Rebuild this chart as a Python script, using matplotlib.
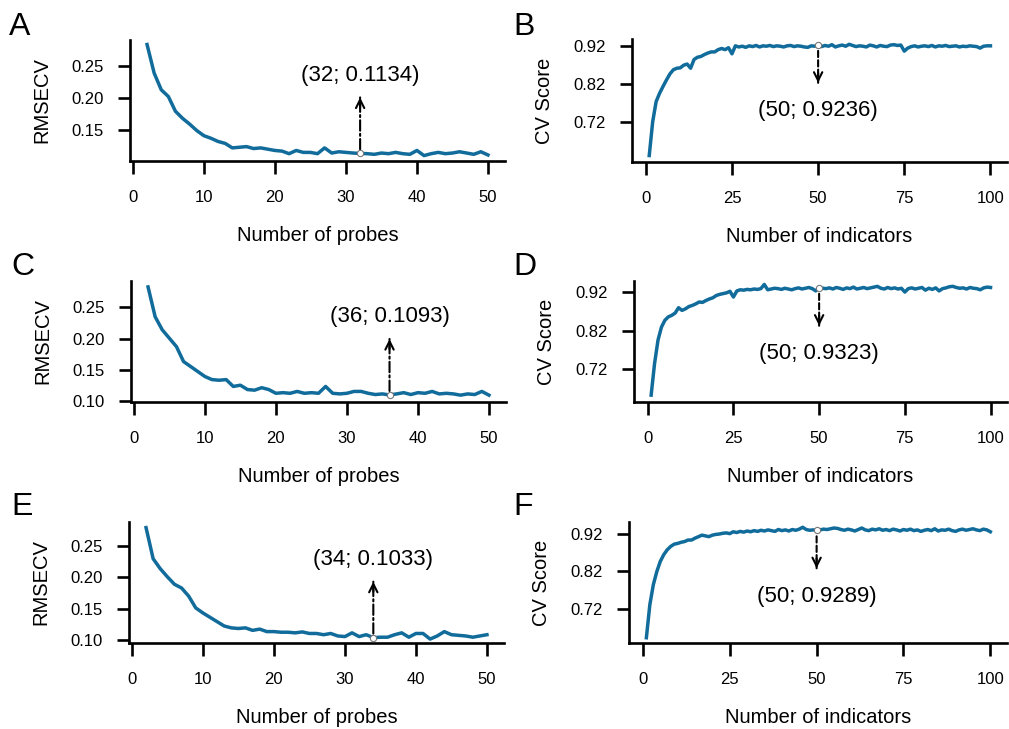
import numpy as np
import matplotlib
matplotlib.use("Agg")
import matplotlib.pyplot as plt
from matplotlib.transforms import offset_copy

plt.rcParams['font.family'] = ['Liberation Sans', 'DejaVu Sans']

# RMSECV vs number of probes (x = 2..50)
probes = np.arange(2, 51)
rmsecv_a = [0.283, 0.2385, 0.2125, 0.202, 0.179, 0.168, 0.159, 0.149, 0.141,
            0.137, 0.132, 0.129, 0.122, 0.123, 0.124, 0.121, 0.122, 0.120, 0.118,
            0.117, 0.113, 0.118, 0.115, 0.115, 0.113, 0.122, 0.114, 0.116, 0.115,
            0.114, 0.1134, 0.113, 0.112, 0.114, 0.113, 0.115, 0.113, 0.112, 0.118,
            0.110, 0.113, 0.115, 0.113, 0.114, 0.116, 0.114, 0.112, 0.116, 0.111]
rmsecv_c = [0.283, 0.235, 0.214, 0.2005, 0.187, 0.163, 0.155, 0.147, 0.139,
            0.134, 0.133, 0.134, 0.123, 0.125, 0.118, 0.117, 0.121, 0.118, 0.112,
            0.113, 0.112, 0.115, 0.112, 0.113, 0.112, 0.123, 0.112, 0.111, 0.112,
            0.115, 0.115, 0.112, 0.110, 0.111, 0.1093, 0.111, 0.113, 0.110, 0.113,
            0.112, 0.115, 0.111, 0.112, 0.111, 0.109, 0.111, 0.110, 0.115, 0.109]
rmsecv_e = [0.280, 0.230, 0.214, 0.201, 0.189, 0.183, 0.170, 0.151, 0.143,
            0.136, 0.129, 0.122, 0.119, 0.118, 0.119, 0.115, 0.117, 0.113, 0.113,
            0.112, 0.112, 0.111, 0.1125, 0.110, 0.110, 0.108, 0.110, 0.106, 0.105,
            0.111, 0.105, 0.108, 0.1033, 0.104, 0.104, 0.108, 0.111, 0.104, 0.110,
            0.110, 0.101, 0.106, 0.113, 0.108, 0.107, 0.106, 0.104, 0.106, 0.108]

# CV score vs number of indicators (x = 1..100)
indicators = np.arange(1, 101)
cv_b = [0.632, 0.721, 0.774, 0.796, 0.814, 0.831, 0.847, 0.858, 0.862, 0.863,
        0.870, 0.873, 0.862, 0.885, 0.891, 0.893, 0.898, 0.902, 0.905, 0.905,
        0.911, 0.914, 0.911, 0.916, 0.900, 0.921, 0.918, 0.920, 0.917, 0.921,
        0.919, 0.922, 0.918, 0.921, 0.920, 0.922, 0.919, 0.921, 0.920, 0.918,
        0.921, 0.922, 0.919, 0.921, 0.920, 0.918, 0.917, 0.921, 0.920, 0.9236,
        0.919, 0.922, 0.920, 0.924, 0.918, 0.921, 0.923, 0.920, 0.925, 0.922,
        0.919, 0.921, 0.920, 0.918, 0.923, 0.921, 0.918, 0.922, 0.920, 0.919,
        0.923, 0.924, 0.922, 0.923, 0.907, 0.915, 0.919, 0.921, 0.918, 0.920,
        0.921, 0.919, 0.922, 0.918, 0.921, 0.920, 0.922, 0.919, 0.920, 0.921,
        0.918, 0.920, 0.919, 0.921, 0.920, 0.919, 0.915, 0.920, 0.921, 0.921]
cv_d = [0.651, 0.734, 0.795, 0.829, 0.847, 0.856, 0.860, 0.866, 0.880, 0.873,
        0.877, 0.883, 0.886, 0.890, 0.895, 0.894, 0.899, 0.903, 0.906, 0.912,
        0.915, 0.917, 0.919, 0.923, 0.908, 0.924, 0.927, 0.926, 0.928, 0.927,
        0.929, 0.928, 0.930, 0.941, 0.927, 0.929, 0.931, 0.930, 0.928, 0.931,
        0.929, 0.927, 0.930, 0.932, 0.929, 0.931, 0.933, 0.930, 0.924, 0.9323,
        0.931, 0.930, 0.932, 0.929, 0.933, 0.931, 0.928, 0.932, 0.930, 0.934,
        0.929, 0.931, 0.933, 0.930, 0.932, 0.934, 0.936, 0.931, 0.929, 0.933,
        0.930, 0.932, 0.929, 0.931, 0.921, 0.930, 0.932, 0.929, 0.931, 0.933,
        0.926, 0.931, 0.928, 0.932, 0.924, 0.930, 0.932, 0.935, 0.936, 0.933,
        0.931, 0.932, 0.929, 0.933, 0.931, 0.930, 0.927, 0.932, 0.934, 0.933]
cv_f = [0.643, 0.731, 0.784, 0.819, 0.846, 0.864, 0.877, 0.886, 0.892, 0.894,
        0.897, 0.899, 0.903, 0.903, 0.908, 0.912, 0.916, 0.914, 0.912, 0.916,
        0.918, 0.919, 0.921, 0.922, 0.920, 0.925, 0.923, 0.926, 0.924, 0.927,
        0.925, 0.928, 0.926, 0.929, 0.927, 0.930, 0.928, 0.926, 0.931, 0.928,
        0.930, 0.927, 0.931, 0.929, 0.932, 0.937, 0.931, 0.929, 0.930, 0.9289,
        0.930, 0.932, 0.931, 0.933, 0.935, 0.934, 0.931, 0.929, 0.932, 0.930,
        0.927, 0.931, 0.935, 0.930, 0.928, 0.932, 0.930, 0.933, 0.929, 0.931,
        0.928, 0.932, 0.930, 0.927, 0.931, 0.929, 0.932, 0.928, 0.930, 0.926,
        0.929, 0.931, 0.928, 0.933, 0.927, 0.930, 0.929, 0.932, 0.928, 0.926,
        0.930, 0.932, 0.929, 0.931, 0.933, 0.930, 0.928, 0.932, 0.930, 0.925]

# selected optimum per panel
best_a, best_c, best_e = 32, 36, 34
best_b, best_d, best_f = 50, 50, 50

LINE_COLOR = '#116c9b'
W, H = 1009, 729


def px_rect(left, top, width, height):
    return [left / W, 1 - (top + height) / H, width / W, height / H]


def style_axes(ax):
    for side in ['top', 'right']:
        ax.spines[side].set_visible(False)
    for side in ['left', 'bottom']:
        ax.spines[side].set_linewidth(1.9)
    ax.tick_params(axis='both', direction='out', length=9, width=1.9,
                   labelsize=12, color='black')
    ax.tick_params(axis='y', pad=10)
    ax.tick_params(axis='x', pad=12)
    ax.yaxis.set_major_formatter(matplotlib.ticker.FormatStrFormatter('%.2f'))


def mark_best(ax, best, yb, stem, head, text_off, dashes):
    fig = ax.figure
    ax.plot(best, yb, 'o', ms=4.5, mfc='white', mec='#777777', mew=0.8, zorder=5)
    # pixel offsets above/below the selected point
    t_stem = offset_copy(ax.transData, fig=fig, y=stem, units='dots')
    t_head = offset_copy(ax.transData, fig=fig, y=head, units='dots')
    t_neck = offset_copy(ax.transData, fig=fig, y=head - np.sign(head) * 10, units='dots')
    ax.annotate('', xy=(best, yb), xycoords=t_head,
                xytext=(best, yb), textcoords=t_stem,
                arrowprops=dict(arrowstyle='-', lw=1.5, color='black',
                                linestyle=dashes, shrinkA=0, shrinkB=0))
    ax.annotate('', xy=(best, yb), xycoords=t_head,
                xytext=(best, yb), textcoords=t_neck,
                arrowprops=dict(arrowstyle='->', lw=1.5, color='black',
                                mutation_scale=15, shrinkA=0, shrinkB=0))
    ax.annotate('(%d; %.4f)' % (best, yb), xy=(best, yb), xytext=(0, text_off),
                textcoords='offset pixels', ha='center', va='center', fontsize=16)


def rmsecv_panel(ax, y, best, ylim):
    y = np.array(y)
    ax.plot(probes, y, color=LINE_COLOR, lw=2.5, solid_joinstyle='round')
    yb = y[probes == best][0]
    mark_best(ax, best, yb, 4, 56, 78, (0, (5, 1.5, 1, 1.5)))
    ax.set_xlim(-0.4, 52.4)
    ax.set_ylim(*ylim)
    ax.set_xticks([0, 10, 20, 30, 40, 50])
    ax.set_yticks([t for t in [0.10, 0.15, 0.20, 0.25] if t >= ylim[0]])
    ax.set_xlabel('Number of probes', fontsize=14.5, labelpad=15)
    ax.set_ylabel('RMSECV', fontsize=14.5, labelpad=14)
    style_axes(ax)


def cv_panel(ax, y, best, ylim):
    y = np.array(y)
    ax.plot(indicators, y, color=LINE_COLOR, lw=2.5, solid_joinstyle='round')
    yb = y[indicators == best][0]
    mark_best(ax, best, yb, -6, -38, -66, (0, (3, 1.5)))
    ax.set_xlim(-4, 104.8)
    ax.set_ylim(*ylim)
    ax.set_xticks([0, 25, 50, 75, 100])
    ax.set_yticks([0.72, 0.82, 0.92])
    ax.set_xlabel('Number of indicators', fontsize=14.5, labelpad=15)
    ax.set_ylabel('CV Score', fontsize=14.5, labelpad=14)
    style_axes(ax)


fig = plt.figure(figsize=(W / 100, H / 100), dpi=100)

ax_a = fig.add_axes(px_rect(130, 40, 375, 121))
ax_b = fig.add_axes(px_rect(632, 39, 375, 123))
ax_c = fig.add_axes(px_rect(131, 281, 375, 121))
ax_d = fig.add_axes(px_rect(634, 281, 373, 121))
ax_e = fig.add_axes(px_rect(129, 522, 375, 121))
ax_f = fig.add_axes(px_rect(629, 522, 378, 121))

rmsecv_panel(ax_a, rmsecv_a, best_a, (0.1016, 0.290))
rmsecv_panel(ax_c, rmsecv_c, best_c, (0.098, 0.2925))
rmsecv_panel(ax_e, rmsecv_e, best_e, (0.0947, 0.289))
cv_panel(ax_b, cv_b, best_b, (0.615, 0.939))
cv_panel(ax_d, cv_d, best_d, (0.633, 0.950))
cv_panel(ax_f, cv_f, best_f, (0.629, 0.951))

# panel letters
for letter, x, y in [('A', 9, 35), ('B', 513, 35), ('C', 11, 275),
                     ('D', 513, 275), ('E', 11, 515), ('F', 513, 515)]:
    fig.text(x / W, 1 - y / H, letter, fontsize=23, va='baseline', ha='left')

fig.savefig('out.png', dpi=100)
